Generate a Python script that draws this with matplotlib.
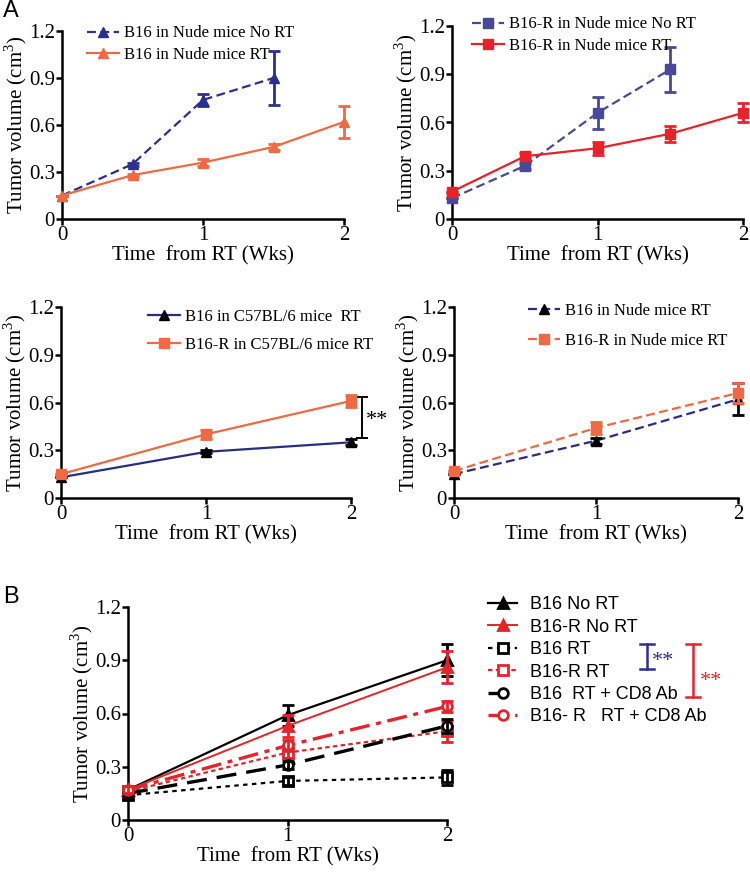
import numpy as np
import matplotlib.pyplot as plt

plt.rcParams['font.family'] = ['Liberation Serif', 'DejaVu Serif']
plt.rcParams['mathtext.fontset'] = 'custom'
plt.rcParams['mathtext.rm'] = 'Liberation Serif'

# ---- data ----
t_half = [0, 0.5, 1, 1.5, 2]
t_week = [0, 1, 2]

b16_nude_nort = [0.15, 0.35, 0.76, 0.90]
b16_nude_nort_err = [0.0, 0.01, 0.04, 0.17]
b16_nude_rt = [0.15, 0.28, 0.36, 0.46, 0.62]
b16_nude_rt_err = [0.0, 0.01, 0.02, 0.02, 0.10]

b16r_nude_nort = [0.13, 0.33, 0.66, 0.93]
b16r_nude_nort_err = [0.0, 0.02, 0.10, 0.14]
b16r_nude_rt = [0.17, 0.39, 0.44, 0.53, 0.66]
b16r_nude_rt_err = [0.0, 0.02, 0.04, 0.05, 0.06]

b16_c57_rt = [0.13, 0.29, 0.35]
b16_c57_rt_err = [0.0, 0.01, 0.02]
b16r_c57_rt = [0.15, 0.40, 0.61]
b16r_c57_rt_err = [0.0, 0.03, 0.04]

b16_nude_rt_w = [0.15, 0.36, 0.62]
b16_nude_rt_w_err = [0.0, 0.02, 0.10]
b16r_nude_rt_w = [0.17, 0.44, 0.66]
b16r_nude_rt_w_err = [0.0, 0.04, 0.06]

# panel B
b_labels = ['B16 No RT', 'B16-R No RT', 'B16 RT', 'B16-R RT',
            'B16  RT + CD8 Ab', 'B16- R   RT + CD8 Ab']
b_values = [[0.17, 0.59, 0.90],
            [0.17, 0.53, 0.86],
            [0.14, 0.22, 0.24],
            [0.16, 0.38, 0.50],
            [0.15, 0.31, 0.53],
            [0.17, 0.42, 0.64]]
b_errors = [[0.02, 0.06, 0.09],
            [0.02, 0.06, 0.09],
            [0.02, 0.02, 0.04],
            [0.02, 0.03, 0.06],
            [0.02, 0.02, 0.04],
            [0.02, 0.03, 0.03]]
b_colors = ['black', '#E3242B', 'black', '#E3242B', 'black', '#E3242B']
b_styles = ['-', '-', (0, (2, 2)), (0, (2, 1.5)), (0, (6, 3)), (0, (6, 2, 1.5, 2))]
b_markers = ['^', '^', 's', 's', 'o', 'o']
b_lw = [1.6, 1.4, 1.6, 1.6, 2.4, 2.4]

W, H = 750, 875
fig = plt.figure(figsize=(7.5, 8.75), dpi=100)


def make_ax(left, right, top, bottom):
    ax = fig.add_axes([left / W, 1 - bottom / H, (right - left) / W, (bottom - top) / H])
    ax.set_xlim(0, 2)
    ax.set_ylim(0, 1.2)
    ax.set_xticks([0, 1, 2])
    ax.set_yticks([0, 0.3, 0.6, 0.9, 1.2])
    ax.set_yticklabels(['0', '0.3', '0.6', '0.9', '1.2'])
    for s in ['top', 'right']:
        ax.spines[s].set_visible(False)
    for s in ['left', 'bottom']:
        ax.spines[s].set_linewidth(1.8)
    ax.tick_params(width=1.8, length=4, labelsize=15, pad=1)
    ax.set_xlabel('Time  from RT (Wks)', fontsize=15, labelpad=1)
    ax.set_ylabel('Tumor volume (cm$^3$)', fontsize=15, labelpad=0)
    return ax


def eb(ax, x, y, e, color, ls, marker, mcolor=None, lw=1.6, ms=7, label=None):
    mc = mcolor if mcolor else color
    ax.plot(x, y, color=color, ls=ls, lw=lw, marker=marker, ms=ms, mfc=mc, mec=mc,
            clip_on=False, label=label, zorder=3)
    ax.errorbar(x, y, yerr=e, fmt='none', ecolor=mc, elinewidth=2, capsize=4,
                capthick=2, clip_on=False, zorder=3)


def leg(ax, x, y, spacing):
    ax.legend(frameon=False, loc='upper left', bbox_to_anchor=(x, y), fontsize=12,
              handlelength=1.9, handletextpad=0.3, labelspacing=spacing, borderpad=0,
              borderaxespad=0)


# A1
ax1 = make_ax(62, 344, 31, 219)
eb(ax1, t_half[:4], b16_nude_nort, b16_nude_nort_err, '#2B3090', (0, (4, 2)), '^',
   label='B16 in Nude mice No RT')
eb(ax1, t_half, b16_nude_rt, b16_nude_rt_err, '#EE6A45', '-', '^',
   label='B16 in Nude mice RT')
leg(ax1, 0.09, 1.03, 0.35)

# A2
ax2 = make_ax(452, 743, 26, 219)
eb(ax2, t_half[:4], b16r_nude_nort, b16r_nude_nort_err, '#4A4998', (0, (4, 2)), 's',
   label='B16-R in Nude mice No RT')
eb(ax2, t_half, b16r_nude_rt, b16r_nude_rt_err, '#E8222B', '-', 's',
   label='B16-R in Nude mice RT')
leg(ax2, 0.07, 1.05, 0.35)

# A3
ax3 = make_ax(61, 351, 307, 498)
eb(ax3, t_week, b16_c57_rt, b16_c57_rt_err, '#2A2C80', '-', '^', mcolor='black',
   label='B16 in C57BL/6 mice  RT')
eb(ax3, t_week, b16r_c57_rt, b16r_c57_rt_err, '#EE6A45', '-', 's',
   label='B16-R in C57BL/6 mice RT')
leg(ax3, 0.3, 0.99, 0.7)
ax3.plot([2.04, 2.11], [0.377, 0.377], color='black', lw=1.4, clip_on=False)
ax3.plot([2.04, 2.11], [0.635, 0.635], color='black', lw=1.4, clip_on=False)
ax3.plot([2.076, 2.076], [0.377, 0.635], color='black', lw=1.4, clip_on=False)
ax3.text(2.1, 0.49, '**', fontsize=16, va='center', ha='left')

# A4
ax4 = make_ax(454, 738, 307, 498)
eb(ax4, t_week, b16_nude_rt_w, b16_nude_rt_w_err, '#2A2C80', (0, (4, 2)), '^',
   mcolor='black', label='B16 in Nude mice RT')
eb(ax4, t_week, b16r_nude_rt_w, b16r_nude_rt_w_err, '#EE6A45', (0, (4, 2)), 's',
   label='B16-R in Nude mice RT')
leg(ax4, 0.26, 1.02, 0.8)

# B
axb = make_ax(128, 447, 607, 820)
for y, e, c, ls, m, lw, lab in zip(b_values, b_errors, b_colors, b_styles, b_markers, b_lw, b_labels):
    open_m = m != '^'
    axb.plot(t_week, y, color=c, ls=ls, lw=lw, marker=m, ms=7,
             mfc='white' if open_m else c, mec=c, mew=2, clip_on=False, label=lab, zorder=3)
    axb.errorbar(t_week, y, yerr=e, fmt='none', ecolor=c, elinewidth=2, capsize=4,
                 capthick=2, clip_on=False, zorder=3)
axb.legend(frameon=False, loc='upper left', bbox_to_anchor=(1.13, 1.05),
           prop={'family': 'Liberation Sans', 'size': 13}, handlelength=1.6,
           handletextpad=0.7, labelspacing=0.3, borderpad=0, borderaxespad=0)

# significance brackets in panel B (figure pixel coords)
def bracket(x, y0, y1, color, tx, ty):
    fig.add_artist(plt.Line2D([x / W, x / W], [1 - y0 / H, 1 - y1 / H], color=color, lw=1.8))
    for yy in (y0, y1):
        fig.add_artist(plt.Line2D([(x - 7) / W, (x + 7) / W], [1 - yy / H, 1 - yy / H],
                                  color=color, lw=1.8))
    fig.text(tx / W, 1 - ty / H, '**', color=color, fontsize=16, ha='left', va='center')

bracket(647, 644, 669, '#2B3090', 652, 662)
bracket(693, 644, 697, '#E3242B', 700, 681)

fig.text(3 / W, 1 - 11 / H, 'A', fontsize=17, family='Liberation Sans', va='center')
fig.text(3 / W, 1 - 597 / H, 'B', fontsize=17, family='Liberation Sans', va='center')

fig.savefig('out.png', dpi=100)
